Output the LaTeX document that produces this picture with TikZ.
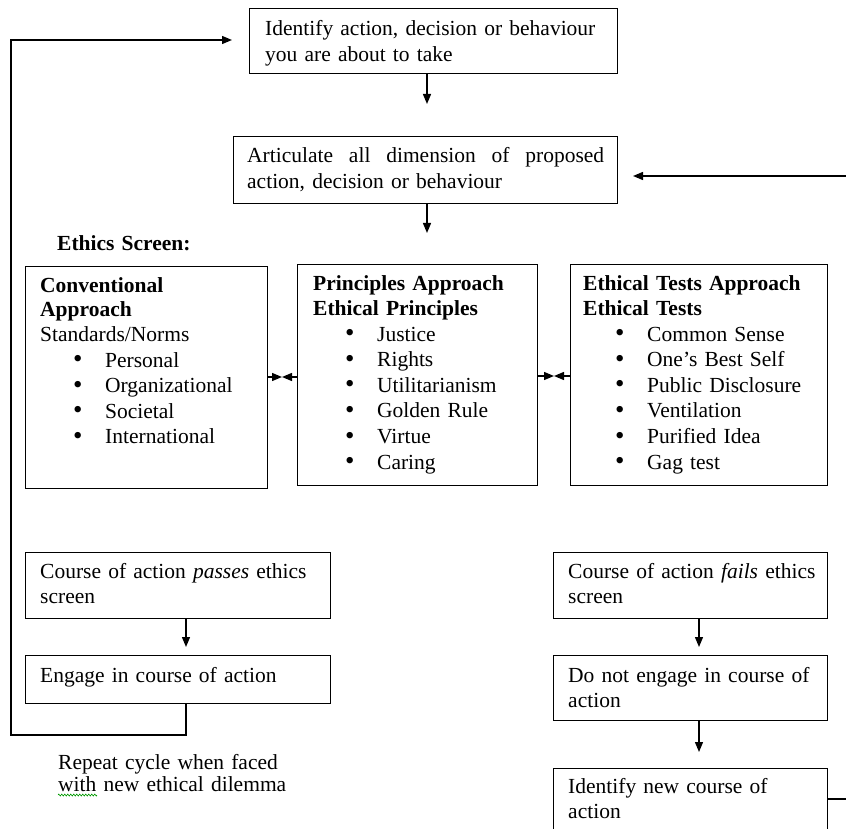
\documentclass[tikz,border=0pt]{standalone}
\usepackage{fontspec}
\usepackage{graphicx}
\setmainfont{Liberation Serif}
\usetikzlibrary{arrows.meta,decorations.pathmorphing}

% body text: fixed size, tight interword spacing
\newcommand{\bodyfont}{\fontsize{21.5}{25.6}\selectfont\spaceskip=0.19em plus 0.08em minus 0.04em\relax}
\newcommand{\bulitem}[1]{\makebox[32pt][l]{\raisebox{-0.6pt}{\scalebox{1.25}{\textbullet}}}#1}

\tikzset{
  box/.style={draw, rectangle, line width=1.3pt, anchor=north west, inner sep=0pt},
  txt/.style={anchor=base west, inner sep=0pt, align=left, text width=#1, font=\bodyfont},
  txt/.default=340pt,
  arr/.style={line width=1.3pt, -{Triangle[length=10pt,width=8pt]}},
  link/.style={line width=1.3pt},
}

\begin{document}
\begin{tikzpicture}[x=1pt, y=-1pt]
\useasboundingbox (0,0) rectangle (846,829);
\clip (0,0) rectangle (846,829);

% ---- boxes ----
\node[box, minimum width=368pt, minimum height=65pt] (idf)    at (249,8)   {};
\node[box, minimum width=384pt, minimum height=67pt] (art)    at (233,136) {};
\node[box, minimum width=242pt, minimum height=222pt] (conv)  at (25,266)  {};
\node[box, minimum width=240pt, minimum height=221pt] (prin)  at (297,264) {};
\node[box, minimum width=257pt, minimum height=221pt] (test)  at (570,264) {};
\node[box, minimum width=305pt, minimum height=66pt] (pass)   at (25,552)  {};
\node[box, minimum width=305pt, minimum height=48pt] (engage) at (25,655)  {};
\node[box, minimum width=274pt, minimum height=66pt] (fail)   at (553,552) {};
\node[box, minimum width=274pt, minimum height=65pt] (noeng)  at (553,655) {};
\node[box, minimum width=274pt, minimum height=85pt] (newc)   at (553,768) {};

% ---- texts ----
\node[txt] (tidf) at (265,36) {Identify action, decision or behaviour\\you are about to take};
\node[txt=357pt] (tart) at (247,163) {Articulate\hfill all\hfill dimension\hfill of\hfill proposed\\action, decision or behaviour};
\node[txt, font=\bodyfont\bfseries] (tscreen) at (57,251) {Ethics Screen:};

\node[txt, font={\bodyfont\baselineskip=24.5pt}] (tconv) at (40,292)
  {\textbf{Conventional}\\\textbf{Approach}\\Standards/Norms};
\node[txt] (lconv) at (73,367)
  {\bulitem{Personal}\\\bulitem{Organizational}\\\bulitem{Societal}\\\bulitem{International}};

\node[txt, font=\bodyfont\bfseries] (tprin) at (313,290) {Principles Approach\\Ethical Principles};
\node[txt] (lprin) at (345,341)
  {\bulitem{Justice}\\\bulitem{Rights}\\\bulitem{Utilitarianism}\\\bulitem{Golden Rule}\\\bulitem{Virtue}\\\bulitem{Caring}};

\node[txt, font=\bodyfont\bfseries] (ttest) at (583,290) {Ethical Tests Approach\\Ethical Tests};
\node[txt] (ltest) at (615,341)
  {\bulitem{Common Sense}\\\bulitem{One’s Best Self}\\\bulitem{Public Disclosure}\\\bulitem{Ventilation}\\\bulitem{Purified Idea}\\\bulitem{Gag test}};

\node[txt] (tpass) at (40,578) {Course of action \textit{passes} ethics\\screen};
\node[txt] (tengage) at (40,682) {Engage in course of action};
\node[txt] (tfail) at (568,578) {Course of action \textit{fails} ethics\\screen};
\node[txt] (tnoeng) at (568,682) {Do not engage in course of\\action};
\node[txt] (tnewc) at (568,793) {Identify new course of\\action};
\node[txt, font={\bodyfont\baselineskip=22.5pt}] (trep) at (58,769)
  {Repeat cycle when faced\\with new ethical dilemma};

% spell-check mark under "with"
\draw[green!60!black, line width=0.6pt,
      decorate, decoration={zigzag, segment length=3pt, amplitude=1pt}]
  (58,795) -- (97,795);

% ---- connector points ----
\coordinate (a1) at (427,104);
\coordinate (a2) at (427,233);
\coordinate (rin) at (846,176);
\coordinate (rtip) at (633,176);
\coordinate (m1) at (282,377);
\coordinate (m2) at (554,376);
\coordinate (a3) at (186,647);
\coordinate (a4) at (699,647);
\coordinate (a5) at (699,752);
\coordinate (l1) at (186,735);
\coordinate (l2) at (11,735);
\coordinate (l3) at (11,40);
\coordinate (ltip) at (232,40);
\coordinate (rout) at (846,799);

% ---- connectors ----
\draw[arr] (a1 |- idf.south) -- (a1);
\draw[arr] (a2 |- art.south) -- (a2);
\draw[arr] (rin) -- (rtip);
\draw[arr] (conv.east |- m1) -- (m1);
\draw[arr] (prin.west |- m1) -- (m1);
\draw[arr] (prin.east |- m2) -- (m2);
\draw[arr] (test.west |- m2) -- (m2);
\draw[arr] (a3 |- pass.south) -- (a3);
\draw[arr] (a4 |- fail.south) -- (a4);
\draw[arr] (a5 |- noeng.south) -- (a5);
\draw[arr] (l1 |- engage.south) -- (l1) -- (l2) -- (l3) -- (ltip);
\draw[link] (newc.east |- rout) -- (rout);
\end{tikzpicture}
\end{document}
